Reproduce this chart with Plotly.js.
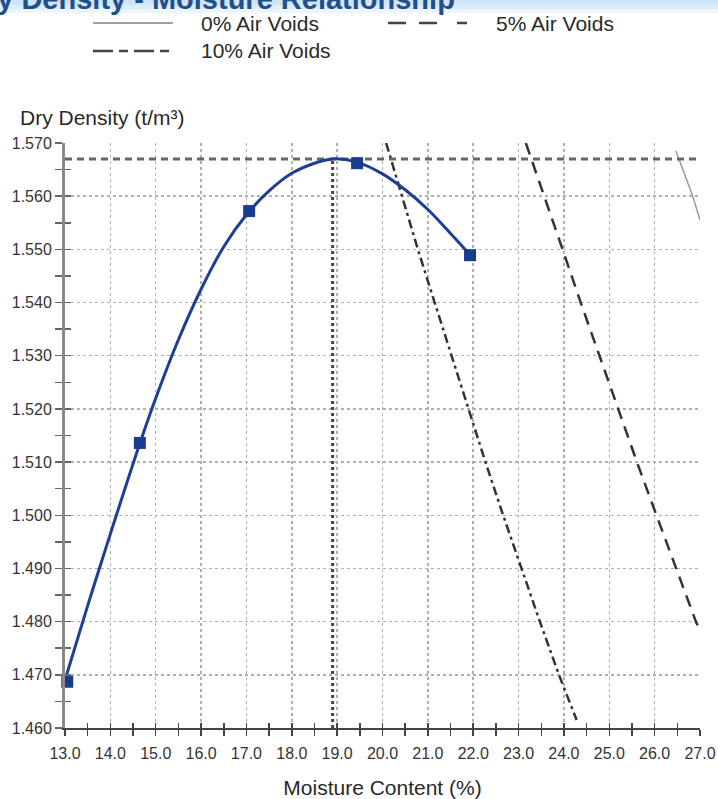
<!DOCTYPE html>
<html><head><meta charset="utf-8">
<script src="https://cdn.plot.ly/plotly-3.0.1.min.js"></script>
<style>html,body{margin:0;padding:0;background:#fff}#chart{width:718px;height:799px}</style>
</head><body><div id="chart"></div>
<script>
// Test points (moisture %, dry density t/m3)
const pointX = [13.05, 14.65, 17.06, 19.44, 21.93];
const pointY = [1.4687, 1.5136, 1.5572, 1.5662, 1.5489];
// Fitted compaction curve
const curveX = [13.0, 13.5, 14.0, 14.65, 15.0, 15.5, 16.0, 16.5, 17.0, 17.5, 18.0, 18.5, 18.9, 19.4, 20.0, 20.5, 21.0, 21.5, 21.93];
const curveY = [1.469, 1.483, 1.4965, 1.5135, 1.522, 1.533, 1.5425, 1.5505, 1.5565, 1.561, 1.5643, 1.5662, 1.567, 1.5665, 1.5642, 1.5612, 1.5575, 1.553, 1.549];
// Maximum dry density / optimum moisture content
const omcX = [18.9, 18.9];
const omcY = [1.46, 1.567];
const mddX = [13.0, 27.0];
const mddY = [1.567, 1.567];
// Air voids lines
const void0X = [26.47, 26.84, 27.0];
const void0Y = [1.5685, 1.560, 1.5555];
const void5X = [23.16, 23.57, 23.97, 24.37, 24.78, 25.19, 25.61, 26.04, 26.47, 26.91, 27.0];
const void5Y = [1.570, 1.560, 1.550, 1.540, 1.530, 1.520, 1.510, 1.500, 1.490, 1.480, 1.4784];
const void10X = [20.08, 20.43, 20.78, 21.15, 21.52, 21.89, 22.27, 22.66, 23.06, 23.47, 23.89, 24.28];
const void10Y = [1.570, 1.560, 1.550, 1.540, 1.530, 1.520, 1.510, 1.500, 1.490, 1.480, 1.470, 1.4615];
// Texts
const titleText = "Dry Density - Moisture Relationship";
const legendLabels = ["0% Air Voids", "5% Air Voids", "10% Air Voids"];
const xTitle = "Moisture Content (%)";
const yTitle = "Dry Density (t/m\u00b3)";

const FONT = "Arial, 'Liberation Sans', sans-serif";
const L = 65, R = 18, T = 143, B = 71, W = 718, H = 799;
const pw = W - L - R, ph = H - T - B;
const px = p => (p - L) / pw;
const py = q => (H - B - q) / ph;

const traces = [
  {x: void0X, y: void0Y, mode: 'lines', line: {color: '#9a9a9a', width: 1.5}, hoverinfo: 'skip'},
  {x: void5X, y: void5Y, mode: 'lines', line: {color: '#333', width: 2.5, dash: '12px,8px'}, hoverinfo: 'skip'},
  {x: void10X, y: void10Y, mode: 'lines', line: {color: '#333', width: 2.5, dash: '9px,4px,3px,4px'}, hoverinfo: 'skip'},
  {x: mddX, y: mddY, mode: 'lines', line: {color: '#666', width: 3, dash: '7px,5px'}, hoverinfo: 'skip'},
  {x: omcX, y: omcY, mode: 'lines', line: {color: '#444', width: 3, dash: '3px,3px'}, hoverinfo: 'skip'},
  {x: curveX, y: curveY, mode: 'lines', line: {color: '#1f3f94', width: 3, shape: 'spline', smoothing: 1}, hoverinfo: 'skip'},
  {x: pointX, y: pointY, mode: 'markers', marker: {symbol: 'square', size: 12, color: '#1a3c8e'}, cliponaxis: false},
  {x: [13], y: [1.46], xaxis: 'x2', yaxis: 'y2', mode: 'markers', marker: {opacity: 0}, hoverinfo: 'skip'}
];

const tickFont = {family: FONT, size: 16, color: '#333'};
const textFont = {family: FONT, size: 21, color: '#2a2a2a'};
const layout = {
  width: W, height: H,
  margin: {l: L, r: R, t: T, b: B},
  paper_bgcolor: '#fff', plot_bgcolor: '#fff',
  showlegend: false,
  xaxis: {
    range: [13, 27], tick0: 13, dtick: 1, tickformat: '.1f',
    ticks: 'outside', ticklen: 6, tickwidth: 1.5, tickcolor: '#444',
    minor: {dtick: 0.5, ticks: 'outside', ticklen: 6, tickwidth: 1.5, tickcolor: '#444', showgrid: false},
    showline: true, linecolor: '#444', linewidth: 2,
    showgrid: true, gridcolor: '#b0b0b0', gridwidth: 1.5, griddash: 'dot',
    zeroline: false, tickfont: tickFont, ticklabelstandoff: 4,
    title: {text: xTitle, font: textFont, standoff: 20}
  },
  yaxis: {
    range: [1.4599999, 1.5700001], tick0: 1.46, dtick: 0.01, tickformat: '.3f',
    ticks: 'outside', ticklen: 7, tickwidth: 1.5, tickcolor: '#666',
    minor: {dtick: 0.005, ticks: 'outside', ticklen: 7, tickwidth: 1.5, tickcolor: '#666', showgrid: false},
    showline: true, linecolor: '#8a8a8a', linewidth: 3,
    showgrid: true, gridcolor: '#b0b0b0', gridwidth: 1.5, griddash: 'dot',
    zeroline: false, tickfont: tickFont
  },
  xaxis2: {overlaying: 'x', anchor: 'y', range: [13, 27], tick0: 13, dtick: 0.5, ticks: 'inside', ticklen: 5, tickwidth: 1.5, tickcolor: '#444', showticklabels: false, showgrid: false, showline: false, zeroline: false},
  yaxis2: {overlaying: 'y', anchor: 'x', range: [1.4599999, 1.5700001], tick0: 1.46, dtick: 0.005, ticks: 'inside', ticklen: 6, tickwidth: 1.5, tickcolor: '#666', showticklabels: false, showgrid: false, showline: false, zeroline: false},
  shapes: [
    // header banner
    {type: 'rect', xref: 'paper', yref: 'paper', x0: px(-5), x1: px(725), y0: py(0), y1: py(-10), fillcolor: '#c3def4', line: {width: 0}, layer: 'below'},
    {type: 'rect', xref: 'paper', yref: 'paper', x0: px(-5), x1: px(725), y0: py(5), y1: py(0), fillcolor: '#cfe5f6', line: {width: 0}, layer: 'below'},
    {type: 'rect', xref: 'paper', yref: 'paper', x0: px(-5), x1: px(725), y0: py(9), y1: py(5), fillcolor: '#ddecf9', line: {width: 0}, layer: 'below'},
    {type: 'rect', xref: 'paper', yref: 'paper', x0: px(-5), x1: px(725), y0: py(13), y1: py(9), fillcolor: '#edf5fc', line: {width: 0}, layer: 'below'},
    // legend samples
    {type: 'line', xref: 'paper', yref: 'paper', x0: px(93), x1: px(173), y0: py(23), y1: py(23), line: {color: '#a0a0a0', width: 2}},
    {type: 'line', xref: 'paper', yref: 'paper', x0: px(388), x1: px(468), y0: py(23), y1: py(23), line: {color: '#444', width: 2.5, dash: '18px,13px,18px,20px,10px,20px'}},
    {type: 'line', xref: 'paper', yref: 'paper', x0: px(93), x1: px(173), y0: py(51), y1: py(51), line: {color: '#444', width: 2.5, dash: '20px,6px,9px,6px'}}
  ],
  annotations: [
    {text: '<b>' + titleText + '</b>', xref: 'paper', yref: 'paper', x: px(-37), y: py(17), xanchor: 'left', yanchor: 'bottom', showarrow: false, font: {family: FONT, size: 29, color: '#1f4f8c'}},
    {text: legendLabels[0], xref: 'paper', yref: 'paper', x: px(199), y: py(23), xanchor: 'left', yanchor: 'middle', showarrow: false, font: textFont},
    {text: legendLabels[1], xref: 'paper', yref: 'paper', x: px(494), y: py(23), xanchor: 'left', yanchor: 'middle', showarrow: false, font: textFont},
    {text: legendLabels[2], xref: 'paper', yref: 'paper', x: px(199), y: py(51), xanchor: 'left', yanchor: 'middle', showarrow: false, font: textFont},
    {text: yTitle, xref: 'paper', yref: 'paper', x: px(18), y: py(118), xanchor: 'left', yanchor: 'middle', showarrow: false, font: textFont}
  ]
};

Plotly.newPlot('chart', traces, layout, {displayModeBar: false, staticPlot: true});
</script>
</body></html>
